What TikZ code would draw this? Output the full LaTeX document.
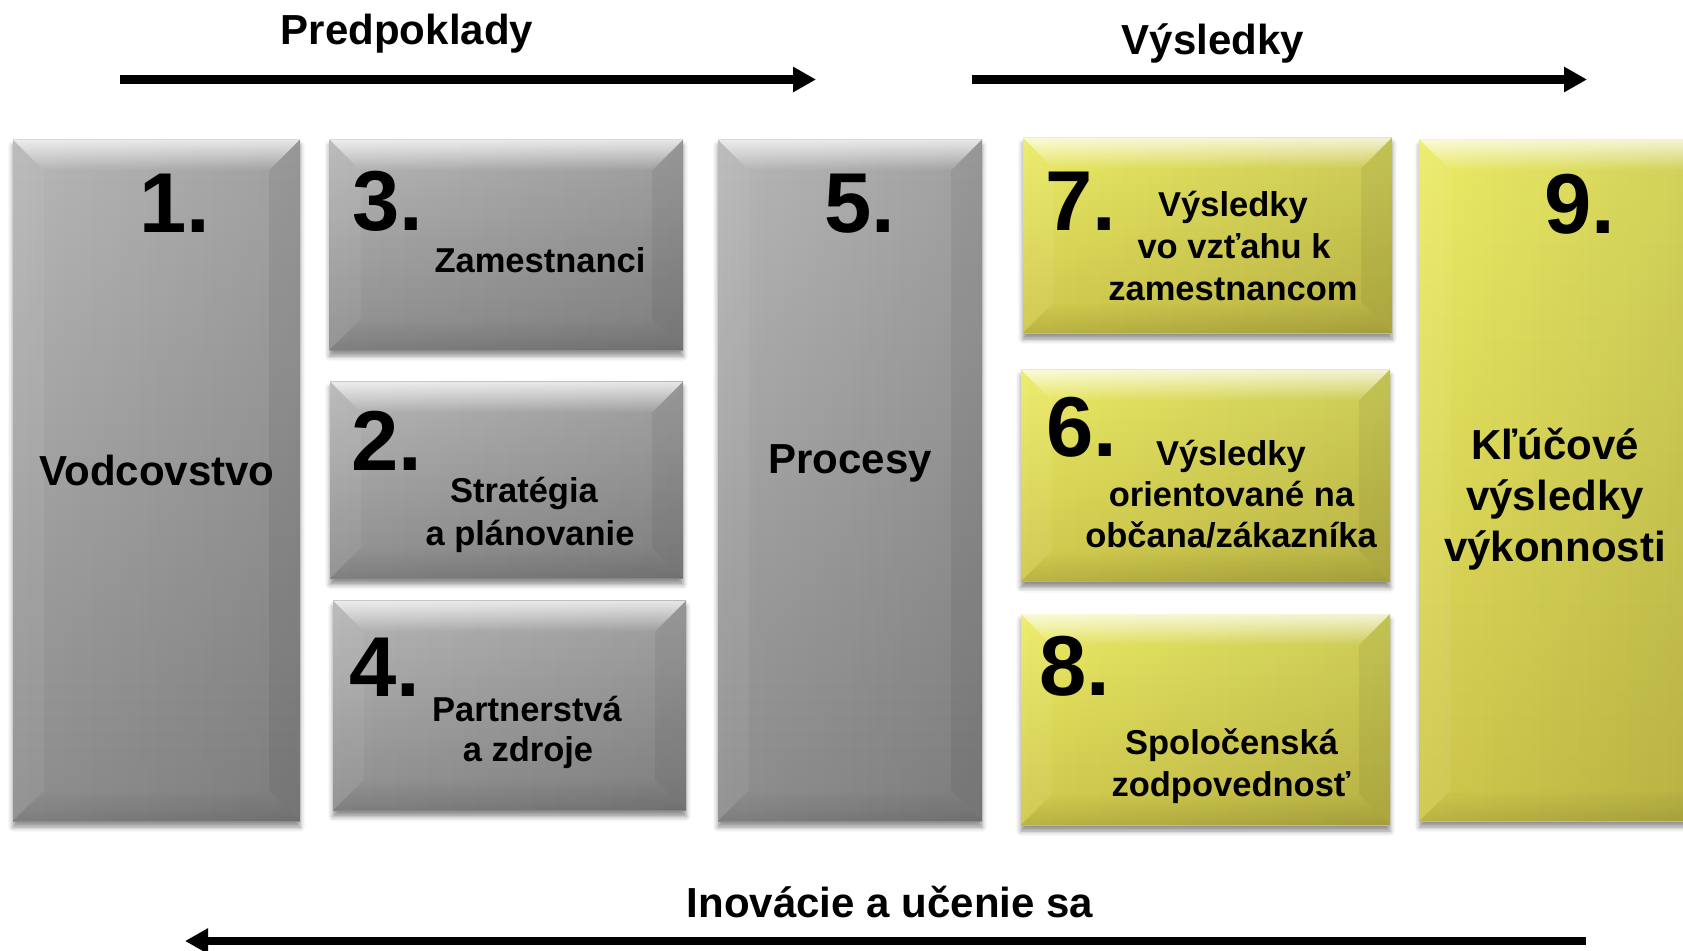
\documentclass[tikz,border=0pt]{standalone}
\usepackage{fontspec}
\setmainfont{Liberation Sans}
\usetikzlibrary{arrows.meta,fadings,shadows.blur}
\definecolor{gA}{HTML}{B8B8B8}
\definecolor{gB}{HTML}{8E8E8E}
\definecolor{yA}{HTML}{ECEC66}
\definecolor{yB}{HTML}{CFC84C}
\tikzset{
  bev/.style n args={2}{rectangle, inner sep=0pt, outer sep=0pt,
    blur shadow={shadow xshift=0pt, shadow yshift=-6pt, shadow blur radius=5pt, shadow opacity=45},
    path picture={
      \coordinate (NW) at (path picture bounding box.north west);
      \coordinate (NE) at (path picture bounding box.north east);
      \coordinate (SW) at (path picture bounding box.south west);
      \coordinate (SE) at (path picture bounding box.south east);
      \shade[top color=#1, bottom color=#2] (SW) rectangle (NE);
      \fill[black, opacity=0.12, path fading=west] (SW) rectangle (NE);
      \fill[white, opacity=0.75, path fading=south] (NW) -- (NE) -- ([shift={(-31pt,-31pt)}]NE) -- ([shift={(31pt,-31pt)}]NW) -- cycle;
      \fill[white, opacity=0.06] (SW) -- (NW) -- ([shift={(31pt,-31pt)}]NW) -- ([shift={(31pt,31pt)}]SW) -- cycle;
      \fill[black, opacity=0.06] (NE) -- (SE) -- ([shift={(-31pt,31pt)}]SE) -- ([shift={(-31pt,-31pt)}]NE) -- cycle;
      \fill[black, opacity=0.10, path fading=north] (SE) -- (SW) -- ([shift={(31pt,31pt)}]SW) -- ([shift={(-31pt,31pt)}]SE) -- cycle;
    }},
  gbox/.style={bev={gA}{gB}},
  ybox/.style={bev={yA}{yB}},
  numtxt/.style={font=\bfseries\fontsize{85}{85}\selectfont, inner sep=0pt, outer sep=0pt, anchor=base west},
  bigtxt/.style={font=\bfseries\fontsize{42}{50}\selectfont, inner sep=0pt, outer sep=0pt, anchor=base},
  smtxt/.style={font=\bfseries\fontsize{34.5}{40}\selectfont, inner sep=0pt, outer sep=0pt, anchor=base},
  arr/.style={line width=8.3pt, -{Triangle[length=23pt,width=24pt]}},
}
\begin{document}
\begin{tikzpicture}[x=1pt,y=-1pt]
\useasboundingbox (0,0) rectangle (1683,950);
\clip (0,0) rectangle (1683,950);
% titles and arrows
\node[bigtxt] (tPred) at (407,45) {Predpoklady};
\node[bigtxt] (tVys) at (1213,55) {Výsledky};
\node[bigtxt] (tIno) at (890,917) {Inovácie a učenie sa};
\coordinate (a1s) at (120,79.5);
\coordinate (a1e) at (816,79.5);
\coordinate (a2s) at (972,79.5);
\coordinate (a2e) at (1587,79.5);
\coordinate (a3s) at (1586,941);
\coordinate (a3e) at (185,941);
\draw[arr] (a1s) -- (a1e);
\draw[arr] (a2s) -- (a2e);
\draw[arr] (a3s) -- (a3e);
% boxes
\node[gbox, minimum width=287pt, minimum height=681.5pt] (b1) at (156.5,480.25) {};
\node[gbox, minimum width=353.5pt, minimum height=210.5pt] (b3) at (506.25,244.75) {};
\node[gbox, minimum width=353pt, minimum height=197pt] (b2) at (506.5,480) {};
\node[gbox, minimum width=353pt, minimum height=210pt] (b4) at (509.5,705.5) {};
\node[gbox, minimum width=264pt, minimum height=681.5pt] (b5) at (850,480.25) {};
\node[ybox, minimum width=369pt, minimum height=195.5pt] (b7) at (1207.5,235.25) {};
\node[ybox, minimum width=369pt, minimum height=212pt] (b6) at (1205.5,475.5) {};
\node[ybox, minimum width=369pt, minimum height=211pt] (b8) at (1205.5,719.5) {};
\node[ybox, minimum width=300pt, minimum height=681.5pt] (b9) at (1569.5,480.25) {};
% numbers
\node[numtxt] (n1) at (139.5,232.7) {1.};
\node[numtxt] (n3) at (352,230) {3.};
\node[numtxt] (n2) at (351,470) {2.};
\node[numtxt] (n4) at (349,696.7) {4.};
\node[numtxt] (n5) at (824.5,232) {5.};
\node[numtxt] (n7) at (1045,230) {7.};
\node[numtxt] (n6) at (1046,456.7) {6.};
\node[numtxt] (n8) at (1039,695) {8.};
\node[numtxt] (n9) at (1544,233.3) {9.};
% labels
\node[bigtxt] (l1) at (157,485) {Vodcovstvo};
\node[smtxt] (l3) at (540,272.6) {Zamestnanci};
\node[smtxt] (l2a) at (524,502.7) {Stratégia};
\node[smtxt] (l2b) at (530,545) {a plánovanie};
\node[smtxt] (l4a) at (527,721) {Partnerstvá};
\node[smtxt] (l4b) at (528,761) {a zdroje};
\node[bigtxt] (l5) at (850,473) {Procesy};
\node[smtxt] (l7a) at (1233,216) {Výsledky};
\node[smtxt] (l7b) at (1234,258) {vo vzťahu k};
\node[smtxt] (l7c) at (1233,300) {zamestnancom};
\node[smtxt] (l6a) at (1231,465) {Výsledky};
\node[smtxt] (l6b) at (1231.5,506) {orientované na};
\node[smtxt] (l6c) at (1231,547) {občana/zákazníka};
\node[smtxt] (l8a) at (1231.5,754) {Spoločenská};
\node[smtxt] (l8b) at (1231,796) {zodpovednosť};
\node[bigtxt] (l9a) at (1555,459) {Kľúčové};
\node[bigtxt] (l9b) at (1555,510) {výsledky};
\node[bigtxt] (l9c) at (1555,561) {výkonnosti};
\end{tikzpicture}
\end{document}
